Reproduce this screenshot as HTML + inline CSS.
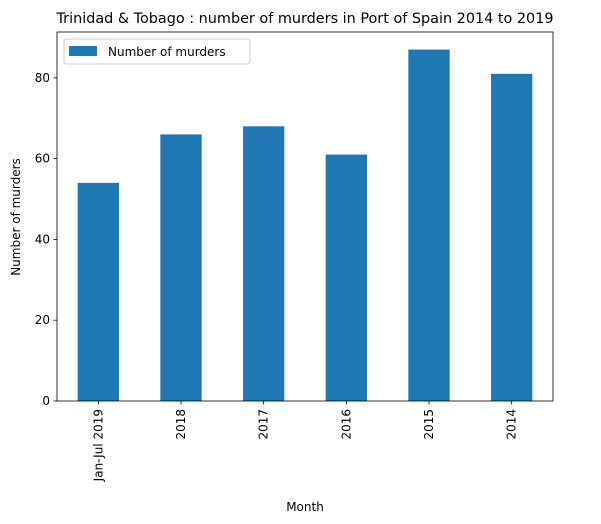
<!DOCTYPE html>
<html><head><meta charset="utf-8"><style>
body{margin:0;background:#fff;}
svg{display:block;font-family:"DejaVu Sans","Liberation Sans",sans-serif;}
</style></head><body>
<svg id="chart" width="601" height="524" xmlns="http://www.w3.org/2000/svg">
<text x="305" y="23" font-size="14.4" text-anchor="middle">Trinidad &amp; Tobago : number of murders in Port of Spain 2014 to 2019</text>
<g id="plot"></g>
<text x="305" y="511" font-size="12" text-anchor="middle">Month</text>
<text transform="translate(20,217) rotate(-90)" font-size="12" text-anchor="middle">Number of murders</text>
</svg>
<script>
const categories=["Jan-Jul 2019","2018","2017","2016","2015","2014"];
const values=[54,66,68,61,87,81];
const yTicks=[0,20,40,60,80];
const L=57,R=553,T=32,B=401,yMax=91.35;
const ns="http://www.w3.org/2000/svg";
const g=document.getElementById("plot");
function y(v){return B-(v/yMax)*(B-T);}
const step=(R-L)/categories.length;
function xc(i){return L+step*(i+0.5);}
function mk(t,a){const e=document.createElementNS(ns,t);for(const k in a)e.setAttribute(k,a[k]);g.appendChild(e);return e;}
values.forEach((v,i)=>{
 const r=mk("rect",{x:xc(i)-step*0.25,y:y(v),width:step*0.5,height:B-y(v),fill:"#1f77b4"});
 
 
});
mk("rect",{x:L,y:T,width:R-L,height:B-T,fill:"none",stroke:"#000","stroke-width":0.8});
yTicks.forEach(t=>{
 mk("line",{x1:L-3.5,x2:L,y1:y(t),y2:y(t),stroke:"#000","stroke-width":0.8});
 const tx=mk("text",{x:L-7,y:y(t)+4,"font-size":12,"text-anchor":"end"});tx.textContent=t;
 
 
});
categories.forEach((c,i)=>{
 mk("line",{x1:xc(i),x2:xc(i),y1:B,y2:B+3.5,stroke:"#000","stroke-width":0.8});
 const tx=mk("text",{transform:`translate(${xc(i)+4},${B+8}) rotate(-90)`,"font-size":12,"text-anchor":"end"});tx.textContent=c;
 
 
});
const lg=mk("g",{});


const lb=document.createElementNS(ns,"rect");
[["x",64],["y",39],["width",186],["height",25],["rx",3],["fill","#fff"],["stroke","#ccc"]].forEach(a=>lb.setAttribute(a[0],a[1]));
lg.appendChild(lb);
const sw=document.createElementNS(ns,"rect");
[["x",69],["y",46],["width",28],["height",10],["fill","#1f77b4"]].forEach(a=>sw.setAttribute(a[0],a[1]));
lg.appendChild(sw);
const lt=document.createElementNS(ns,"text");
lt.setAttribute("x",108);lt.setAttribute("y",56);lt.setAttribute("font-size",12);
lt.textContent="Number of murders";
lg.appendChild(lt);
</script>
</body></html>
